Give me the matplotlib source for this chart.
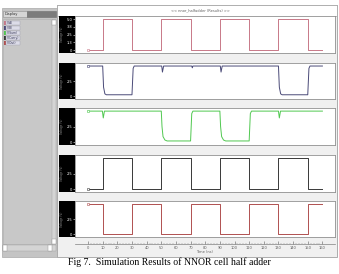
import matplotlib.pyplot as plt
from matplotlib.patches import Rectangle

W, H = 339, 274

# time (ns) and voltage (V) of each trace
a_t = [0, 10, 30, 50, 70, 90, 110, 130, 150, 160]
a_v = [0, 5, 0, 5, 0, 5, 0, 5, 0, 0]

nand_t = [0, 10, 10.6, 11.5, 12.5, 30, 30.8, 31.5, 50.3, 50.8, 51.6,
          70.8, 71.2, 71.6, 90.3, 90.8, 91.6, 130, 130.6, 131.5, 132.5,
          150, 150.8, 151.5, 160]
nand_v = [5.0, 5.0, 1.5, 0.4, 0.25, 0.25, 4.6, 5.0, 5.0, 4.0, 5.0,
          5.0, 4.7, 5.0, 5.0, 4.0, 5.0, 5.0, 1.5, 0.4, 0.25,
          0.25, 4.6, 5.0, 5.0]

sum_t = [0, 9.8, 10.4, 11.2, 50, 50.5, 51.2, 52.5, 54, 70, 70.8, 71.6,
         90, 90.5, 91.2, 92.5, 94, 110, 110.8, 111.6, 130, 130.6, 131.4, 160]
sum_v = [5, 5, 3.9, 5, 5, 2.5, 0.9, 0.35, 0.2, 0.2, 4.6, 5,
         5, 2.5, 0.9, 0.35, 0.2, 0.2, 4.6, 5, 5, 3.9, 5, 5]

b_t = [0, 10, 30, 50, 70, 90, 110, 130, 150, 160]
b_v = [0, 5, 0, 5, 0, 5, 0, 5, 0, 0]

out_t = [0, 10, 30, 50, 70, 90, 110, 130, 150, 160]
out_v = [5, 0, 5, 0, 5, 0, 5, 0, 5, 5]

signal_names = ["V(A)", "V(B)", "V(Sum)", "V(Carry)", "V(Out)"]
signal_colors = ["#c87888", "#4a4a78", "#50c850", "#383838", "#b05050"]

rows = [(16, 53), (63, 99), (108, 145), (155, 192), (201, 237)]
x_ticks = [0, 10, 20, 30, 40, 50, 60, 70, 80, 90, 100, 110, 120, 130, 140, 150, 160]

XL = (-8.9, 168.6)


def px_axes(fig, x0, y0, x1, y1, **kw):
    return fig.add_axes([x0 / W, 1 - y1 / H, (x1 - x0) / W, (y1 - y0) / H], **kw)


fig = plt.figure(figsize=(W / 100, H / 100), dpi=100)

# background layer in pixel coordinates
bg = px_axes(fig, 0, 0, W, H)
bg.set_xlim(0, W)
bg.set_ylim(H, 0)
bg.axis("off")

bg.add_patch(Rectangle((57, 5), 280, 252, fc="#f0f0f0", ec="#a0a0a0", lw=0.6))
bg.add_patch(Rectangle((57, 5), 280, 11, fc="white", ec="#a0a0a0", lw=0.5))
bg.text(200, 10.5, "<< nnor_halfadder (Results) >>", fontsize=2.6,
        color="#606060", ha="center", va="center")

# left signal list
bg.add_patch(Rectangle((2, 8), 55, 249, fc="#c4c4c4", ec="#a8a8a8", lw=0.5))
bg.add_patch(Rectangle((3, 11), 24, 6, fc="#d6d6d6", ec="#909090", lw=0.4))
bg.text(5, 14, "Display", fontsize=2.6, color="#303030", va="center")
bg.add_patch(Rectangle((27, 11), 29, 6, fc="#7c7c7c", ec="#707070", lw=0.4))
bg.add_patch(Rectangle((3, 19), 49, 225, fc="#c8c8c8", ec="#b0b0b0", lw=0.4))
for i, (name, col) in enumerate(zip(signal_names, signal_colors)):
    y = 21 + 5 * i
    bg.add_patch(Rectangle((3.5, y), 2.2, 4, fc=col, ec="none"))
    bg.add_patch(Rectangle((5.7, y), 14, 4, fc="#dcdce8", ec="#a0a0b0", lw=0.3))
    bg.text(6.5, y + 2, name, fontsize=2.2, color="#303050", va="center")
bg.add_patch(Rectangle((52, 20), 4, 224, fc="#d4d4d4", ec="#a0a0a0", lw=0.3))
bg.add_patch(Rectangle((52, 20), 4, 5, fc="white", ec="#909090", lw=0.3))
bg.add_patch(Rectangle((52, 239), 4, 5, fc="white", ec="#909090", lw=0.3))
bg.add_patch(Rectangle((3, 245), 53, 6, fc="#d4d4d4", ec="#a0a0a0", lw=0.3))
bg.add_patch(Rectangle((3, 245), 4, 6, fc="white", ec="#909090", lw=0.3))
bg.add_patch(Rectangle((48, 245), 4, 6, fc="white", ec="#909090", lw=0.3))

# black label strips
for (y0, y1) in rows:
    bg.add_patch(Rectangle((59, y0), 16, y1 - y0, fc="black", ec="none"))
    bg.text(62, (y0 + y1) / 2, "Voltage (V)", fontsize=2.0, color="#909090",
            rotation=90, ha="center", va="center")

bg.text(169, 262, "Fig 7.  Simulation Results of NNOR cell half adder",
        fontsize=7.0, family="Liberation Serif", ha="center", va="center")

traces = [(a_t, a_v, "steps-post"), (nand_t, nand_v, "default"),
          (sum_t, sum_v, "default"), (b_t, b_v, "steps-post"),
          (out_t, out_v, "steps-post")]

for i, ((y0, y1), (t, v, ds)) in enumerate(zip(rows, traces)):
    ax = px_axes(fig, 75, y0, 335, y1)
    ax.set_facecolor("white")
    ax.plot(t, v, color=signal_colors[i], lw=0.7, drawstyle=ds)
    ax.plot(t[0], v[0], marker="s", ms=1.8, mfc="white",
            mec=signal_colors[i], mew=0.4)
    ax.set_xlim(*XL)
    ax.set_ylim(-0.45, 5.5)
    ax.set_xticks([])
    if i == 0:
        ax.set_yticks([0, 1.25, 2.5, 3.75, 5])
        ax.set_yticklabels(["0", "1.3", "2.5", "3.8", "5.0"])
    else:
        ax.set_yticks([0, 2.5])
        ax.set_yticklabels(["0", "2.5"])
    ax.tick_params(axis="y", labelsize=2.6, colors="white", length=1.2,
                   width=0.4, pad=0.8)
    for s in ax.spines.values():
        s.set_color("#909090")
        s.set_linewidth(0.6)

# time axis
axx = px_axes(fig, 75, 238, 335, 244)
axx.set_xlim(*XL)
axx.set_ylim(0, 1)
axx.patch.set_alpha(0)
for k in ["top", "left", "right"]:
    axx.spines[k].set_visible(False)
axx.spines["bottom"].set_color("#808080")
axx.spines["bottom"].set_linewidth(0.5)
axx.set_yticks([])
axx.set_xticks(x_ticks)
axx.set_xticks([t + 2 * k for t in x_ticks[:-1] for k in range(1, 5)], minor=True)
axx.tick_params(axis="x", which="major", direction="in", length=2, width=0.4,
                labelsize=2.6, pad=1.2, colors="#606060")
axx.tick_params(axis="x", which="minor", direction="in", length=1, width=0.3,
                colors="#808080")
axx.set_xlabel("Time (ns)", fontsize=2.6, labelpad=0.3, color="#606060")

fig.savefig("out.png", dpi=100)
